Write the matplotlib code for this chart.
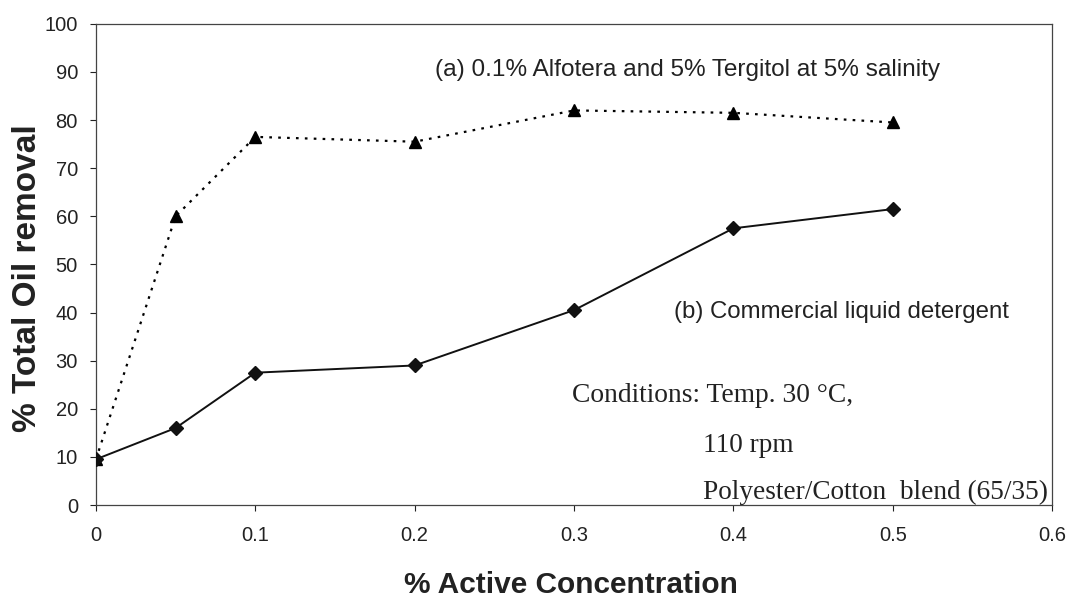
import matplotlib.pyplot as plt

plt.rcParams['font.family'] = ['Liberation Sans', 'DejaVu Sans']

# data
conc = [0, 0.05, 0.1, 0.2, 0.3, 0.4, 0.5]
removal_a = [9.5, 60, 76.5, 75.5, 82, 81.5, 79.5]   # Alfotera + Tergitol
removal_b = [9.5, 16, 27.5, 29, 40.5, 57.5, 61.5]   # commercial detergent
xticks = [0, 0.1, 0.2, 0.3, 0.4, 0.5, 0.6]
yticks = [0, 10, 20, 30, 40, 50, 60, 70, 80, 90, 100]

fig = plt.figure(figsize=(10.66, 6.03), dpi=100)
ax = fig.add_axes([0.090, 0.1625, 0.897, 0.798])

ax.plot(conc, removal_a, color='black', linestyle=(0, (1.2, 2.8)), lw=1.6,
        marker='^', markersize=9, zorder=3)
ax.plot(conc, removal_b, color='#111111', linestyle='-', lw=1.4,
        marker='D', markersize=7, zorder=3)

ax.set_xlim(0, 0.6)
ax.set_ylim(0, 100)
ax.set_xticks(xticks)
ax.set_xticklabels(['0', '0.1', '0.2', '0.3', '0.4', '0.5', '0.6'])
ax.set_yticks(yticks)
ax.tick_params(axis='both', direction='out', length=4, width=0.8,
               labelsize=14.5, colors='#222222')
ax.tick_params(axis='x', pad=11)
ax.tick_params(axis='y', pad=9)
for s in ax.spines.values():
    s.set_linewidth(0.9)
    s.set_color('#444444')

fig.text(0.536, 0.030, '% Active Concentration', fontsize=21.5, fontweight='bold',
         ha='center', va='center', color='#222222')
fig.text(0.026, 0.539, '% Total Oil removal', fontsize=24, fontweight='bold',
         ha='center', va='center', rotation=90, color='#222222')

ax.text(0.371, 90.4, '(a) 0.1% Alfotera and 5% Tergitol at 5% salinity',
        fontsize=17.6, ha='center', va='center', color='#222222')
ax.text(0.4677, 40.1, '(b) Commercial liquid detergent',
        fontsize=17.3, ha='center', va='center', color='#222222')

serif = ['Liberation Serif', 'DejaVu Serif']
ax.text(0.2988, 22.7, 'Conditions: Temp. 30 °C,', fontsize=19.8, family=serif,
        ha='left', va='center', color='#222222')
ax.text(0.381, 12.3, '110 rpm', fontsize=19.6, family=serif,
        ha='left', va='center', color='#222222')
ax.text(0.381, 2.6, 'Polyester/Cotton  blend (65/35)', fontsize=19.6, family=serif,
        ha='left', va='center', color='#222222')

fig.savefig('out.png', dpi=100, facecolor='white')
